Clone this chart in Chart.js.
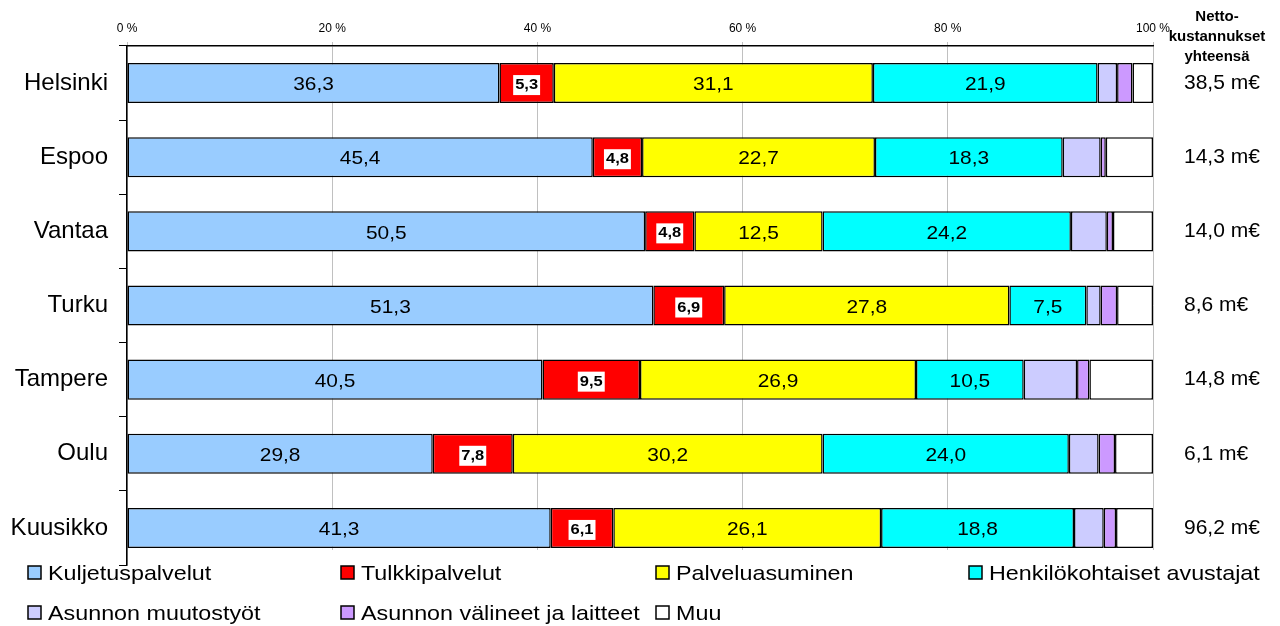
<!DOCTYPE html>
<html>
<head>
<meta charset="utf-8">
<script src="https://cdn.jsdelivr.net/npm/chart.js"></script>
<style>
  body { margin: 0; background: #fff; }
</style>
</head>
<body>
<canvas id="costs" width="1280" height="626"></canvas>
<script>
const cities = ["Helsinki", "Espoo", "Vantaa", "Turku", "Tampere", "Oulu", "Kuusikko"];
const totals = ["38,5 m€", "14,3 m€", "14,0 m€", "8,6 m€", "14,8 m€", "6,1 m€", "96,2 m€"];

const kuljetuspalvelut = [36.3, 45.4, 50.5, 51.3, 40.5, 29.8, 41.3];
const tulkkipalvelut = [5.3, 4.8, 4.8, 6.9, 9.5, 7.8, 6.1];
const palveluasuminen = [31.1, 22.7, 12.5, 27.8, 26.9, 30.2, 26.1];
const avustajat = [21.9, 18.3, 24.2, 7.5, 10.5, 24.0, 18.8];
const muutostyot = [1.9, 3.7, 3.5, 1.4, 5.2, 2.9, 2.9];
const valineet = [1.5, 0.5, 0.6, 1.6, 1.2, 1.6, 1.2];
const muu = [2.0, 4.6, 3.9, 3.5, 6.2, 3.7, 3.6];

const seriesNames = [
  "Kuljetuspalvelut",
  "Tulkkipalvelut",
  "Palveluasuminen",
  "Henkilökohtaiset avustajat",
  "Asunnon muutostyöt",
  "Asunnon välineet ja laitteet",
  "Muu",
];
const seriesData = [kuljetuspalvelut, tulkkipalvelut, palveluasuminen, avustajat, muutostyot, valineet, muu];
const seriesColors = ["#99CCFF", "#FF0000", "#FFFF00", "#00FFFF", "#CCCCFF", "#CC99FF", "#FFFFFF"];
const headerLines = ["Netto-", "kustannukset", "yhteensä"];

const FONT = "'Liberation Sans', Arial, sans-serif";

function stretchText(ctx, text, x, y, sx) {
  ctx.save();
  ctx.translate(x, y);
  ctx.scale(sx, 1);
  ctx.fillText(text, 0, 0);
  ctx.restore();
}

// values written inside the first four segments
const segmentLabels = {
  id: "segmentLabels",
  afterDatasetsDraw(chart) {
    const ctx = chart.ctx;
    for (let d = 0; d < 4; d++) {
      const meta = chart.getDatasetMeta(d);
      meta.data.forEach(function (bar, i) {
        const txt = seriesData[d][i].toFixed(1).replace(".", ",");
        const cx = (bar.x + bar.base) / 2;
        const cy = bar.y;
        ctx.save();
        ctx.textAlign = "center";
        ctx.textBaseline = "middle";
        ctx.fillStyle = "#000";
        if (d == 1) {
          ctx.font = "bold 15px " + FONT;
          const w = ctx.measureText(txt).width * 1.1 + 4;
          ctx.fillStyle = "#fff";
          ctx.fillRect(cx - w / 2, cy - 8, w, 20);
          ctx.fillStyle = "#000";
          stretchText(ctx, txt, cx, cy + 2, 1.1);
        } else {
          ctx.font = "19px " + FONT;
          stretchText(ctx, txt, cx, cy + 2, 1.1);
        }
        ctx.restore();
      });
    }
  },
};

// header on the right and the two-row legend under the plot
const extras = {
  id: "extras",
  afterDraw(chart) {
    const ctx = chart.ctx;
    const area = chart.chartArea;
    const last = chart.getDatasetMeta(0).data[cities.length - 1];
    const barBottom = last.y + last.height / 2 + 2;

    ctx.save();
    // legend sits over the bottom of the plot, hiding the grid stubs
    ctx.fillStyle = "#fff";
    ctx.fillRect(area.left + 1, barBottom, area.right - area.left + 4, area.bottom - barBottom + 1);

    ctx.fillStyle = "#000";
    ctx.textAlign = "center";
    ctx.textBaseline = "alphabetic";
    ctx.font = "bold 15px " + FONT;
    headerLines.forEach(function (line, i) {
      ctx.fillText(line, 1217, 21 + i * 20);
    });

    const cols = [28, 341, 656, 969];
    const rows = [580, 620];
    ctx.textAlign = "left";
    ctx.font = "21px " + FONT;
    seriesNames.forEach(function (name, i) {
      const bx = cols[i % 4];
      const by = rows[Math.floor(i / 4)];
      ctx.fillStyle = seriesColors[i];
      ctx.fillRect(bx, by - 14, 13, 13);
      ctx.strokeStyle = "#000";
      ctx.lineWidth = 1.5;
      ctx.strokeRect(bx, by - 14, 13, 13);
      ctx.fillStyle = "#000";
      stretchText(ctx, name, bx + 20, by, 1.11);
    });
    ctx.restore();
  },
};

new Chart("costs", {
  type: "bar",
  data: {
    labels: cities,
    datasets: seriesNames.map(function (name, i) {
      return {
        label: name,
        data: seriesData[i],
        backgroundColor: seriesColors[i],
        borderColor: "#000",
        borderWidth: 1.5,
        borderSkipped: false,
        categoryPercentage: 1,
        barPercentage: 0.54,
      };
    }),
  },
  options: {
    indexAxis: "y",
    responsive: false,
    animation: false,
    layout: { padding: { left: 0, right: 0, top: 0, bottom: 61 } },
    plugins: {
      legend: { display: false },
      tooltip: { enabled: false },
    },
    scales: {
      x: {
        position: "top",
        stacked: true,
        min: 0,
        max: 100,
        afterFit: function (scale) {
          scale.height = 46;
          scale.paddingLeft = 0;
          scale.paddingRight = 0;
        },
        ticks: {
          stepSize: 20,
          padding: 6,
          color: "#000",
          font: { family: FONT, size: 12 },
          callback: function (v) {
            return v + " %";
          },
        },
        grid: { color: "#c0c0c0", tickLength: 4, lineWidth: 1 },
        border: { color: "#000", width: 1.5 },
      },
      y: {
        stacked: true,
        afterFit: function (scale) {
          scale.width = 127;
        },
        ticks: {
          padding: 11,
          color: "#000",
          font: { family: FONT, size: 24 },
        },
        grid: {
          offset: true,
          drawOnChartArea: false,
          tickLength: 8,
          color: "#000",
        },
        border: { color: "#000", width: 1.5 },
      },
      y2: {
        type: "category",
        position: "right",
        labels: totals,
        offset: true,
        afterFit: function (scale) {
          scale.width = 127;
        },
        ticks: {
          padding: 23,
          color: "#000",
          font: { family: FONT, size: 21 },
        },
        grid: { display: false },
        border: { display: false },
      },
    },
  },
  plugins: [segmentLabels, extras],
});
</script>
</body>
</html>
